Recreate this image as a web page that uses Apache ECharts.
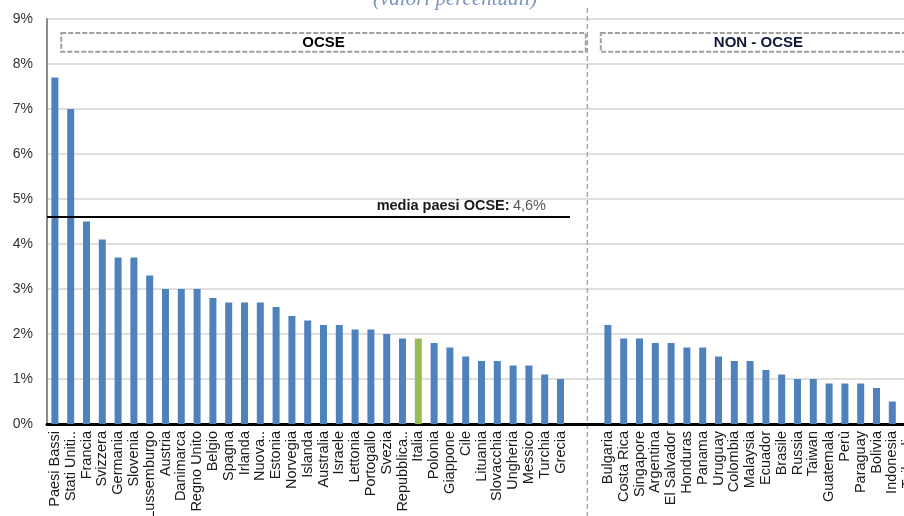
<!DOCTYPE html>
<html>
<head>
<meta charset="utf-8">
<script src="https://cdn.jsdelivr.net/npm/echarts@6/dist/echarts.min.js"></script>
<style>
  html, body { margin: 0; padding: 0; background: #fff; }
  /* il grafico originale è tagliato a destra: il contenitore interno è più largo della cornice */
  #frame { width: 904px; height: 516px; overflow: hidden; position: relative; }
  #chart { width: 916px; height: 516px; position: absolute; left: 0; top: 0; }
</style>
</head>
<body>
<div id="frame"><div id="chart"></div></div>
<script>
// paesi OCSE
const ocseNames = ['Paesi Bassi', 'Stati Uniti..', 'Francia', 'Svizzera', 'Germania', 'Slovenia', 'Lussemburgo',
  'Austria', 'Danimarca', 'Regno Unito', 'Belgio', 'Spagna', 'Irlanda', 'Nuova..', 'Estonia', 'Norvegia',
  'Islanda', 'Australia', 'Israele', 'Lettonia', 'Portogallo', 'Svezia', 'Repubblica..', 'Italia', 'Polonia',
  'Giappone', 'Cile', 'Lituania', 'Slovacchia', 'Ungheria', 'Messico', 'Turchia', 'Grecia'];
const ocseValues = [7.7, 7.0, 4.5, 4.1, 3.7, 3.7, 3.3, 3.0, 3.0, 3.0, 2.8, 2.7, 2.7, 2.7, 2.6, 2.4,
  2.3, 2.2, 2.2, 2.1, 2.1, 2.0, 1.9, 1.9, 1.8, 1.7, 1.5, 1.4, 1.4, 1.3, 1.3, 1.1, 1.0];
// paesi non OCSE
const nonOcseNames = ['Bulgaria', 'Costa Rica', 'Singapore', 'Argentina', 'El Salvador', 'Honduras', 'Panama',
  'Uruguay', 'Colombia', 'Malaysia', 'Ecuador', 'Brasile', 'Russia', 'Taiwan', 'Guatemala', 'Perù',
  'Paraguay', 'Bolivia', 'Indonesia', 'Tailandia'];
const nonOcseValues = [2.2, 1.9, 1.9, 1.8, 1.8, 1.7, 1.7, 1.5, 1.4, 1.4, 1.2, 1.1, 1.0, 1.0, 0.9, 0.9,
  0.9, 0.8, 0.5, 0.4];
const yTicks = [0, 1, 2, 3, 4, 5, 6, 7, 8, 9];
const mediaOcse = 4.6;
const highlight = 'Italia';

// due posizioni vuote tra i gruppi
const gapNames = ['', ' '];
const categories = ocseNames.concat(gapNames, nonOcseNames);
const values = ocseValues.concat([null, null], nonOcseValues);
const nSlots = categories.length;
const nOcse = ocseNames.length;
const sepPos = nOcse + 1.2; // linea tratteggiata tra i due gruppi

const myChart = echarts.init(document.getElementById('chart'));
myChart.setOption({
  backgroundColor: '#fff',
  animation: false,
  title: {
    text: '(valori percentuali)',
    left: 368,
    top: -16,
    textStyle: { fontFamily: 'Liberation Serif', fontStyle: 'italic', fontWeight: 'normal', fontSize: 21, color: '#7b93c0' },
  },
  grid: { left: 47, right: 0, top: 19, bottom: 92, outerBoundsMode: 'none' },
  xAxis: [{
    type: 'category',
    data: categories,
    axisLine: { lineStyle: { color: '#000', width: 3 } },
    axisTick: { show: false },
    axisLabel: {
      interval: 0,
      rotate: 90,
      margin: 7,
      fontFamily: 'Liberation Sans',
      fontSize: 14.5,
      color: '#1a1a1a',
    },
  }, {
    // asse nascosto per le annotazioni (una unità per categoria)
    type: 'value',
    min: 0,
    max: nSlots,
    show: false,
  }],
  yAxis: {
    type: 'value',
    min: yTicks[0],
    max: yTicks[yTicks.length - 1],
    interval: 1,
    axisLine: { show: true, lineStyle: { color: '#8c8c8c', width: 2 } },
    axisTick: { show: false },
    axisLabel: { formatter: '{value}%', fontFamily: 'Liberation Sans', fontSize: 14, color: '#333', margin: 14 },
    splitLine: { lineStyle: { color: '#d4d4d4', width: 1.5 } },
  },
  series: [{
    type: 'bar',
    barWidth: 7,
    data: values.map((v, i) => ({
      value: v,
      itemStyle: { color: categories[i] === highlight ? '#9bbb59' : '#4f81bd' },
    })),
  }, {
    type: 'line',
    xAxisIndex: 1,
    data: [],
    silent: true,
    markArea: {
      silent: true,
      itemStyle: { color: 'rgba(0,0,0,0)', borderColor: '#a0a0a0', borderWidth: 2, borderType: [5, 2] },
      label: { position: 'inside', fontFamily: 'Liberation Sans', fontWeight: 'bold', fontSize: 15, color: '#000' },
      data: [
        [{ name: 'OCSE', coord: [0.9, 8.69] }, { coord: [nOcse + 1.1, 8.27] }],
        [{ name: 'NON - OCSE', coord: [nOcse + 2.05, 8.69], label: { color: '#10183a' } }, { coord: [nSlots, 8.27] }],
      ],
    },
    markLine: {
      silent: true,
      symbol: 'none',
      data: [
        [{
          coord: [0, mediaOcse],
          lineStyle: { color: '#000', width: 2, type: 'solid' },
          label: {
            show: true,
            position: 'insideEndTop',
            distance: [24, 4],
            formatter: '{b|media paesi OCSE:} {v|' + String(mediaOcse).replace('.', ',') + '%}',
            rich: {
              b: { fontFamily: 'Liberation Sans', fontWeight: 'bold', fontSize: 14.5, color: '#1a1a1a' },
              v: { fontFamily: 'Liberation Sans', fontSize: 14.5, color: '#555' },
            },
          },
        }, { coord: [nOcse + 0.1, mediaOcse] }],
      ],
    },
  }],
});

// linea verticale tratteggiata: si estende oltre l'area del grafico, quindi la disegno come graphic
const sepX = myChart.convertToPixel({ xAxisIndex: 1 }, sepPos);
myChart.setOption({
  graphic: [{
    type: 'line',
    silent: true,
    shape: { x1: sepX, y1: 8, x2: sepX, y2: 516 },
    style: { stroke: '#a6a6a6', lineWidth: 1.5, lineDash: [5, 3] },
  }],
});
</script>
</body>
</html>
